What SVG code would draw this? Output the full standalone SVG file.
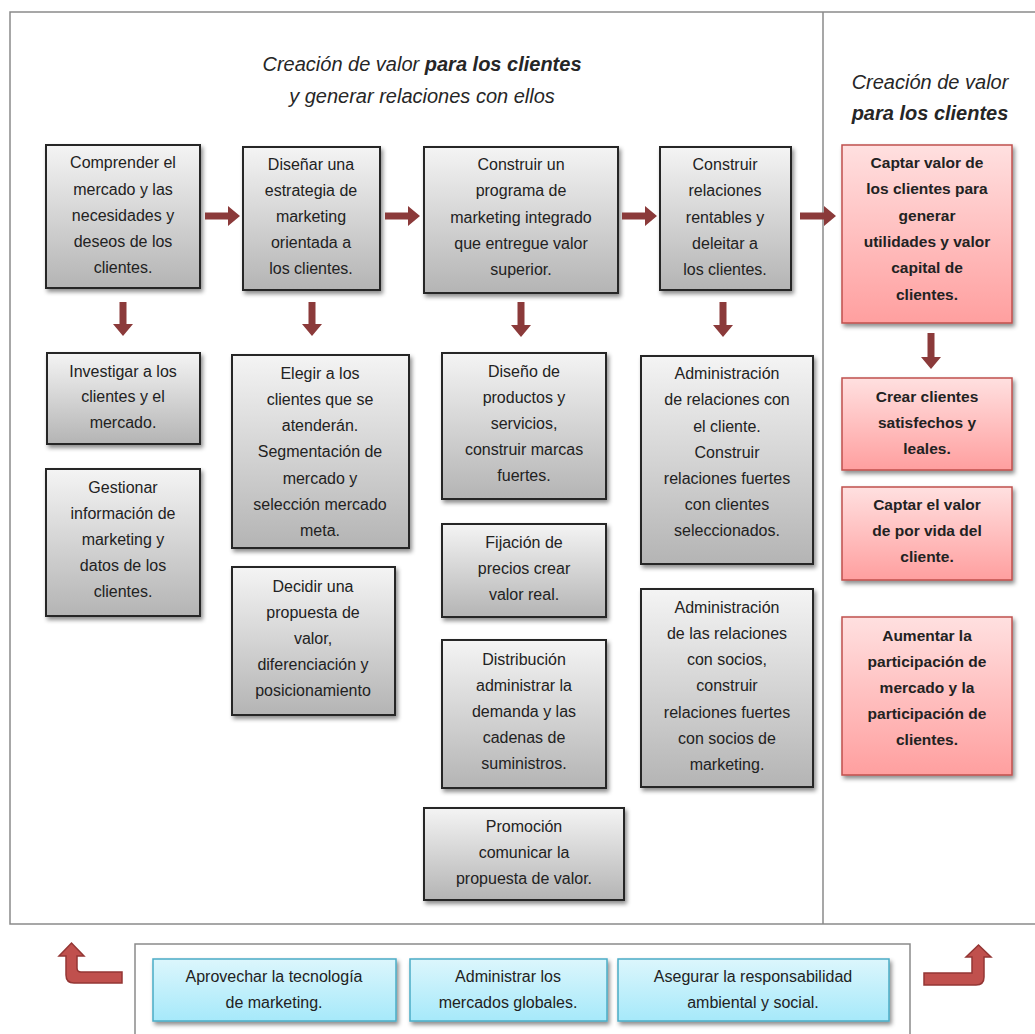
<svg xmlns="http://www.w3.org/2000/svg" width="1035" height="1034" viewBox="0 0 1035 1034">
<defs>
<linearGradient id="gGray" x1="0" y1="0" x2="0" y2="1"><stop offset="0" stop-color="#f4f4f4"/><stop offset="1" stop-color="#b4b4b4"/></linearGradient>
<linearGradient id="gRed" x1="0" y1="0" x2="0" y2="1"><stop offset="0" stop-color="#ffe0e0"/><stop offset="1" stop-color="#ff9f9f"/></linearGradient>
<linearGradient id="gBlue" x1="0" y1="0" x2="0" y2="1"><stop offset="0" stop-color="#dcf6fc"/><stop offset="1" stop-color="#a6e9fa"/></linearGradient>
<filter id="sh" x="-10%" y="-10%" width="130%" height="130%"><feDropShadow dx="2" dy="3" stdDeviation="2" flood-color="#000" flood-opacity="0.45"/></filter>
</defs>
<style>
.gray{fill:url(#gGray);stroke:#262626;stroke-width:2;filter:url(#sh)}
.red{fill:url(#gRed);stroke:#c0504d;stroke-width:1.5;filter:url(#sh)}
.blue{fill:url(#gBlue);stroke:#4bacc6;stroke-width:1.5;filter:url(#sh)}
.frame{fill:none;stroke:#8a8a8a;stroke-width:1.5}
text{font-family:"Liberation Sans",Arial,sans-serif;font-size:16px;fill:#222;text-anchor:middle}
.b{font-weight:bold;font-size:15.5px}
.t{font-style:italic;font-size:20px;fill:#262626}
.arr{fill:#8b3a3a}
.barr{fill:#c0504d;stroke:#943634;stroke-width:1.5}
</style>
<rect width="1035" height="1034" fill="#fff"/>
<g id="frames">
<polyline class="frame" points="1036,12 10,12 10,924 1036,924"/>
<line class="frame" x1="823" y1="12" x2="823" y2="924"/>
<polyline class="frame" points="135,1036 135,944 910,944 910,1036"/>
</g>
<g id="titles">
<text class="t" x="422" y="71">Creación de valor <tspan font-weight="bold">para los clientes</tspan></text>
<text class="t" x="422" y="103">y generar relaciones con ellos</text>
<text class="t" x="930" y="89">Creación de valor</text>
<text class="t" x="930" y="120" font-weight="bold">para los clientes</text>
</g>
<g id="n-comprender"><rect class="gray" x="46" y="145" width="154" height="143"/>
<text x="123" y="168">Comprender el</text><text x="123" y="195">mercado y las</text><text x="123" y="221">necesidades y</text><text x="123" y="247">deseos de los</text><text x="123" y="273">clientes.</text></g>
<g id="n-disenar"><rect class="gray" x="243" y="147" width="137" height="143"/>
<text x="311" y="170">Diseñar una</text><text x="311" y="196">estrategia de</text><text x="311" y="222">marketing</text><text x="311" y="248">orientada a</text><text x="311" y="274">los clientes.</text></g>
<g id="n-construir-programa"><rect class="gray" x="424" y="147" width="194" height="146"/>
<text x="521" y="170">Construir un</text><text x="521" y="196">programa de</text><text x="521" y="223">marketing integrado</text><text x="521" y="249">que entregue valor</text><text x="521" y="275">superior.</text></g>
<g id="n-construir-relaciones"><rect class="gray" x="660" y="147" width="131" height="143"/>
<text x="725" y="170">Construir</text><text x="725" y="196">relaciones</text><text x="725" y="223">rentables y</text><text x="725" y="249">deleitar a</text><text x="725" y="275">los clientes.</text></g>
<g id="n-captar-valor"><rect class="red" x="842" y="145" width="170" height="178"/>
<text class="b" x="927" y="168">Captar valor de</text><text class="b" x="927" y="194">los clientes para</text><text class="b" x="927" y="221">generar</text><text class="b" x="927" y="247">utilidades y valor</text><text class="b" x="927" y="273">capital de</text><text class="b" x="927" y="300">clientes.</text></g>
<g id="n-investigar"><rect class="gray" x="47" y="353" width="153" height="91"/>
<text x="123" y="377">Investigar a los</text><text x="123" y="402">clientes y el</text><text x="123" y="428">mercado.</text></g>
<g id="n-gestionar"><rect class="gray" x="46" y="469" width="154" height="147"/>
<text x="123" y="493">Gestionar</text><text x="123" y="519">información de</text><text x="123" y="545">marketing y</text><text x="123" y="571">datos de los</text><text x="123" y="597">clientes.</text></g>
<g id="n-elegir"><rect class="gray" x="232" y="355" width="177" height="193"/>
<text x="320" y="379">Elegir a los</text><text x="320" y="405">clientes que se</text><text x="320" y="431">atenderán.</text><text x="320" y="457">Segmentación de</text><text x="320" y="484">mercado y</text><text x="320" y="510">selección mercado</text><text x="320" y="536">meta.</text></g>
<g id="n-decidir"><rect class="gray" x="232" y="567" width="163" height="148"/>
<text x="313" y="592">Decidir una</text><text x="313" y="618">propuesta de</text><text x="313" y="644">valor,</text><text x="313" y="670">diferenciación y</text><text x="313" y="696">posicionamiento</text></g>
<g id="n-diseno"><rect class="gray" x="442" y="353" width="164" height="146"/>
<text x="524" y="377">Diseño de</text><text x="524" y="403">productos y</text><text x="524" y="429">servicios,</text><text x="524" y="455">construir marcas</text><text x="524" y="481">fuertes.</text></g>
<g id="n-fijacion"><rect class="gray" x="442" y="524" width="164" height="93"/>
<text x="524" y="548">Fijación de</text><text x="524" y="574">precios crear</text><text x="524" y="600">valor real.</text></g>
<g id="n-distribucion"><rect class="gray" x="442" y="640" width="164" height="148"/>
<text x="524" y="665">Distribución</text><text x="524" y="691">administrar la</text><text x="524" y="717">demanda y las</text><text x="524" y="743">cadenas de</text><text x="524" y="769">suministros.</text></g>
<g id="n-promocion"><rect class="gray" x="424" y="808" width="200" height="92"/>
<text x="524" y="832">Promoción</text><text x="524" y="858">comunicar la</text><text x="524" y="884">propuesta de valor.</text></g>
<g id="n-adm-clientes"><rect class="gray" x="641" y="356" width="172" height="208"/>
<text x="727" y="379">Administración</text><text x="727" y="405">de relaciones con</text><text x="727" y="432">el cliente.</text><text x="727" y="458">Construir</text><text x="727" y="484">relaciones fuertes</text><text x="727" y="510">con clientes</text><text x="727" y="536">seleccionados.</text></g>
<g id="n-adm-socios"><rect class="gray" x="641" y="589" width="172" height="198"/>
<text x="727" y="613">Administración</text><text x="727" y="639">de las relaciones</text><text x="727" y="665">con socios,</text><text x="727" y="691">construir</text><text x="727" y="718">relaciones fuertes</text><text x="727" y="744">con socios de</text><text x="727" y="770">marketing.</text></g>
<g id="n-crear"><rect class="red" x="842" y="378" width="170" height="92"/>
<text class="b" x="927" y="402">Crear clientes</text><text class="b" x="927" y="428">satisfechos y</text><text class="b" x="927" y="454">leales.</text></g>
<g id="n-captar-vida"><rect class="red" x="842" y="487" width="170" height="93"/>
<text class="b" x="927" y="510">Captar el valor</text><text class="b" x="927" y="536">de por vida del</text><text class="b" x="927" y="562">cliente.</text></g>
<g id="n-aumentar"><rect class="red" x="842" y="617" width="170" height="158"/>
<text class="b" x="927" y="641">Aumentar la</text><text class="b" x="927" y="667">participación de</text><text class="b" x="927" y="693">mercado y la</text><text class="b" x="927" y="719">participación de</text><text class="b" x="927" y="745">clientes.</text></g>
<g id="n-tecnologia"><rect class="blue" x="153" y="959" width="243" height="62"/>
<text x="274" y="982">Aprovechar la tecnología</text><text x="274" y="1008">de marketing.</text></g>
<g id="n-globales"><rect class="blue" x="410" y="959" width="197" height="62"/>
<text x="508" y="982">Administrar los</text><text x="508" y="1008">mercados globales.</text></g>
<g id="n-responsabilidad"><rect class="blue" x="618" y="959" width="271" height="62"/>
<text x="753" y="982">Asegurar la responsabilidad</text><text x="753" y="1008">ambiental y social.</text></g>
<g id="connectors">
<path class="arr" d="M205,212.5 H228 V206 L240,216 L228,226 V219.5 H205 Z"/>
<path class="arr" d="M385,212.5 H408 V206 L420,216 L408,226 V219.5 H385 Z"/>
<path class="arr" d="M622,212.5 H645 V206 L657,216 L645,226 V219.5 H622 Z"/>
<path class="arr" d="M800,212.5 H824 V206 L836,216 L824,226 V219.5 H800 Z"/>
<path class="arr" d="M119.5,302 V324 H113 L123,336 L133,324 H126.5 V302 Z"/>
<path class="arr" d="M308.5,302 V324 H302 L312,336 L322,324 H315.5 V302 Z"/>
<path class="arr" d="M517.5,302 V325 H511 L521,337 L531,325 H524.5 V302 Z"/>
<path class="arr" d="M719.5,302 V325 H713 L723,337 L733,325 H726.5 V302 Z"/>
<path class="arr" d="M927.5,333 V357 H921 L931,369 L941,357 H934.5 V333 Z"/>
<path class="barr" d="M122,972 H81 Q77,972 77,968 V956 H84 L71.5,943 L59,956 H66 V975 Q66,983 74,983 H122 Z"/>
<path class="barr" d="M924,973 H972 V957 H966 L978.5,945 L991,957 H984 V977 Q984,985 976,985 H924 Z"/>
</g>
</svg>
